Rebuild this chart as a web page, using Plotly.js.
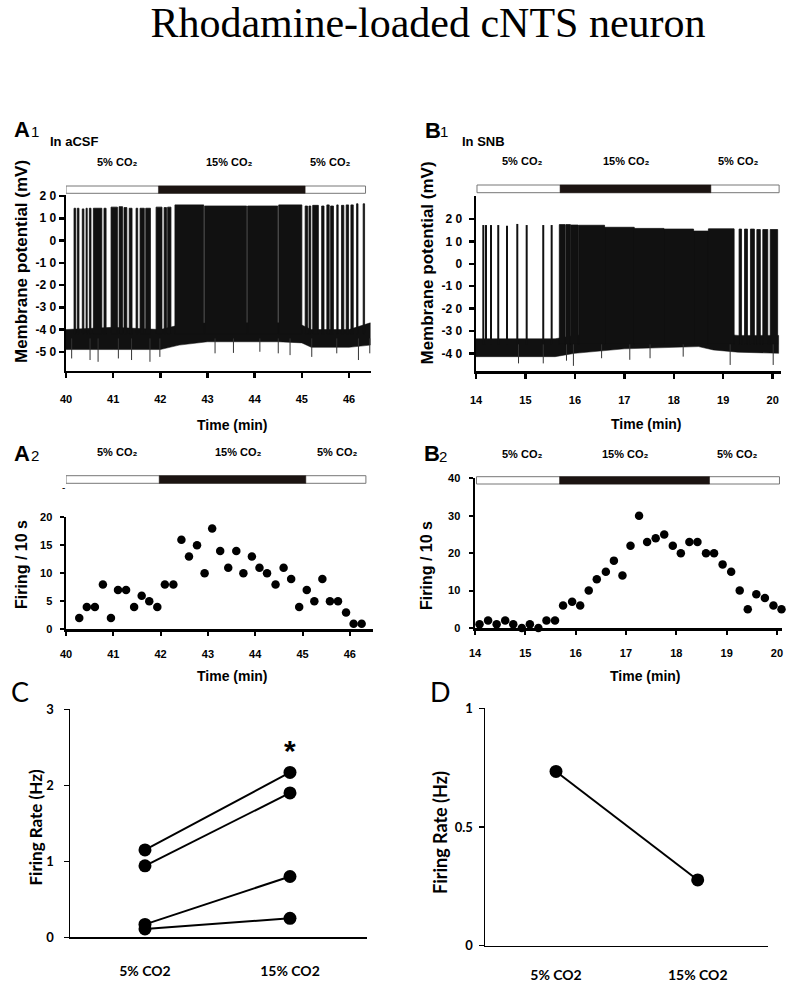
<!DOCTYPE html>
<html><head><meta charset="utf-8">
<script src="https://cdn.plot.ly/plotly-3.0.1.min.js"></script>
<style>html,body{margin:0;padding:0;background:#fff}#chart{width:800px;height:989px}</style>
</head><body><div id="chart"></div>
<script>
// ---------- A1 : membrane potential in aCSF ----------
const a1XTicks = [40, 41, 42, 43, 44, 45, 46];
const a1YTickVals = [20, 10, 0, -10, -20, -30, -40, -50];
const a1YTickText = ['2 0', '1 0', '0', '-1 0', '-2 0', '-3 0', '-4 0', '-5 0'];
const a1Bar = [40.0, 46.35];
const a1Co2 = [41.96, 45.07];
const a1BandT = [40, 41.0, 42.0, 42.4, 43.0, 44.5, 45.0, 45.2, 46.0, 46.45];
const a1BandTop = [-40, -39, -40, -38, -37, -37, -38, -40, -40, -37];
const a1BandBot = [-49, -49, -49, -47, -45.5, -45.5, -46, -48, -48, -47];
const a1BurstStart = [40.17,40.24,40.345,40.425,40.495,40.58,40.805,40.955,41.125,41.23,41.34,41.485,41.57,41.69,41.91,42.08,42.155,42.31,42.94,43.85,44.51,45.07,45.15,45.23,45.42,45.53,45.61,45.74,45.84,45.94,46.04,46.16,46.30];
const a1BurstEnd = [40.205,40.275,40.38,40.45,40.53,40.76,40.85,41.09,41.20,41.29,41.40,41.52,41.66,41.79,42.035,42.13,42.225,42.92,43.83,44.49,45.0,45.12,45.19,45.35,45.47,45.58,45.67,45.77,45.89,45.99,46.09,46.19,46.33];
const a1BurstPeak = [14.5,14.5,14.2,14.5,14.5,14.5,14.5,15,15.2,14.8,14.5,14.5,14.5,14.5,15,14.8,15,16,15.5,15.5,16,15.5,15.5,15.8,15.5,16,15.5,16,15.8,16,16,16.5,16.5];
const a1SpikeBase = -42;
const a1DipT = [40.12,40.51,40.68,41.11,41.39,41.78,41.99,43.16,43.55,44.11,44.5,44.75,45.21,45.74,46.2,46.44];
const a1DipV = [-53,-53.7,-54.5,-53,-53.7,-54.5,-52.3,-50.7,-50.5,-50,-50.7,-51.5,-52.3,-50.7,-53.7,-50.7];

// ---------- B1 : membrane potential in SNB ----------
const b1XTicks = [14, 15, 16, 17, 18, 19, 20];
const b1YTickVals = [20, 10, 0, -10, -20, -30, -40];
const b1YTickText = ['2 0', '1 0', '0', '-1 0', '-2 0', '-3 0', '-4 0'];
const b1Bar = [14.02, 20.13];
const b1Co2 = [15.70, 18.75];
const b1BandT = [14, 15.6, 16.0, 17.0, 18.5, 18.8, 19.3, 20.12];
const b1BandTop = [-33.5, -33.5, -32, -30, -30, -31, -32, -32];
const b1BandBot = [-41.5, -41.5, -40, -38, -37, -38.5, -39.5, -40];
const b1SpikeT = [14.148, 14.202, 14.303, 14.45, 14.627, 14.835, 15.025, 15.36, 15.53];
const b1SpikePeak = [17.3, 17.3, 17.3, 17.3, 17, 17.8, 17.3, 17.3, 17.3];
const b1BurstStart = [15.685,15.82,15.92,16.075,16.6,17.2,17.8,18.4,18.7,19.32,19.43,19.55,19.68,19.80,19.95];
const b1BurstEnd = [15.805,15.91,16.065,16.6,17.2,17.8,18.4,18.7,19.22,19.37,19.49,19.63,19.75,19.90,20.10];
const b1BurstPeak = [17.5,17.5,17.3,17.2,16.3,15.8,15.5,14.6,15.6,15.5,15.5,15.5,15.3,15.3,15.3];
const b1SpikeBase = -36;
const b1DipT = [14.86, 15.36, 15.83, 15.97, 16.54, 17.11, 17.52, 18.19, 19.14, 20.01];
const b1DipV = [-44.5, -44.5, -43.3, -45.6, -42.2, -42.9, -42.2, -41.5, -45.2, -45.2];

// ---------- A2 : firing per 10 s (aCSF) ----------
const a2XTicks = [40, 41, 42, 43, 44, 45, 46];
const a2YTicks = [0, 5, 10, 15, 20];
const a2Bar = [40.0, 46.34];
const a2Co2 = [41.97, 45.07];
const a2T = [40.28,40.44,40.61,40.78,40.95,41.10,41.27,41.44,41.60,41.76,41.93,42.09,42.27,42.44,42.60,42.77,42.93,43.09,43.26,43.43,43.60,43.75,43.93,44.09,44.25,44.43,44.60,44.76,44.93,45.09,45.25,45.42,45.58,45.75,45.92,46.08,46.25];
const a2V = [2,4,4,8,2,7,7,4,6,5,4,8,8,16,13,15,10,18,14,11,14,10,13,11,10,8,11,9,4,7,5,9,5,5,3,1,1];

// ---------- B2 : firing per 10 s (SNB) ----------
const b2XTicks = [14, 15, 16, 17, 18, 19, 20];
const b2YTicks = [0, 10, 20, 30, 40];
const b2Bar = [14.03, 20.05];
const b2Co2 = [15.68, 18.66];
const b2T = [14.09,14.26,14.43,14.60,14.76,14.93,15.09,15.26,15.42,15.59,15.75,15.93,16.09,16.26,16.42,16.60,16.76,16.93,17.09,17.26,17.42,17.59,17.76,17.93,18.09,18.26,18.42,18.59,18.75,18.92,19.09,19.26,19.42,19.59,19.76,19.93,20.09];
const b2V = [1,2,1,2,1,0,1,0,2,2,6,7,6,10,13,15,18,14,22,30,23,24,25,22,20,23,23,20,20,17,15,10,5,9,8,6,5];

// ---------- C and D : firing rate ----------
const condCats = ['5% CO2', '15% CO2'];
const cCell1 = [1.15, 2.17];
const cCell2 = [0.94, 1.90];
const cCell3 = [0.17, 0.80];
const cCell4 = [0.11, 0.25];
const cYTicks = [0, 1, 2, 3];
const dCell1 = [0.734, 0.277];
const dYTicks = [0, 0.5, 1];
const dYTickText = ['0', '0.5', '1'];

// ================= drawing =================
const W = 800, H = 989;
const FA = 'Liberation Sans, Arial, sans-serif';
const FC = 'Lato, Open Sans, sans-serif';
const px = v => v / W;
const py = v => 1 - v / H;

function bandTrace(t, top, bot, xa, ya) {
  return {x: t.concat(t.slice().reverse()), y: top.concat(bot.slice().reverse()),
    xaxis: xa, yaxis: ya, type: 'scatter', mode: 'lines', fill: 'toself',
    fillcolor: '#111', line: {color: '#111', width: 0.5}, hoverinfo: 'skip'};
}
function burstTrace(s, e, pk, base, xa, ya) {
  const x = [], y = [];
  for (let i = 0; i < s.length; i++) {
    x.push(s[i], s[i], e[i], e[i], s[i], null);
    y.push(base, pk[i], pk[i], base, base, null);
  }
  return {x, y, xaxis: xa, yaxis: ya, type: 'scatter', mode: 'lines', fill: 'toself',
    fillcolor: '#111', line: {color: '#111', width: 0.8}, hoverinfo: 'skip'};
}
function vlineTrace(t, v0, v, xa, ya, w, color) {
  const x = [], y = [];
  for (let i = 0; i < t.length; i++) {
    x.push(t[i], t[i], null);
    y.push(Array.isArray(v0) ? v0[i] : v0, v[i], null);
  }
  return {x, y, xaxis: xa, yaxis: ya, type: 'scatter', mode: 'lines',
    line: {color: color || '#111', width: w}, hoverinfo: 'skip'};
}
function dotTrace(t, v, xa, ya, size) {
  return {x: t, y: v, xaxis: xa, yaxis: ya, type: 'scatter', mode: 'markers',
    marker: {color: '#000', size: size}, cliponaxis: false};
}
function pairTrace(v, xa, ya) {
  return {x: condCats, y: v, xaxis: xa, yaxis: ya, type: 'scatter', mode: 'lines+markers',
    line: {color: '#000', width: 2}, marker: {color: '#000', size: 13}, cliponaxis: false};
}

const traces = [
  bandTrace(a1BandT, a1BandTop, a1BandBot, 'x', 'y'),
  burstTrace(a1BurstStart, a1BurstEnd, a1BurstPeak, a1SpikeBase, 'x', 'y'),
  vlineTrace(a1DipT, -44, a1DipV, 'x', 'y', 1, '#333'),
  bandTrace(b1BandT, b1BandTop, b1BandBot, 'x2', 'y2'),
  burstTrace(b1BurstStart, b1BurstEnd, b1BurstPeak, b1SpikeBase, 'x2', 'y2'),
  vlineTrace(b1SpikeT, b1SpikeBase, b1SpikePeak, 'x2', 'y2', 2),
  vlineTrace(b1DipT, -36, b1DipV, 'x2', 'y2', 1, '#333'),
  dotTrace(a2T, a2V, 'x3', 'y3', 8.5),
  dotTrace(b2T, b2V, 'x4', 'y4', 8.5),
  pairTrace(cCell1, 'x5', 'y5'),
  pairTrace(cCell2, 'x5', 'y5'),
  pairTrace(cCell3, 'x5', 'y5'),
  pairTrace(cCell4, 'x5', 'y5'),
  pairTrace(dCell1, 'x6', 'y6')
];

function axis(o) {
  return Object.assign({showline: true, linecolor: '#000', showgrid: false, zeroline: false,
    fixedrange: true, ticks: 'outside', tickcolor: '#000'}, o);
}
const tfA = {family: FA, size: 12, color: '#000', weight: 'bold'};
const tfA2 = {family: FA, size: 11, color: '#000', weight: 'bold'};
const tfC = {family: FC, size: 13, color: '#000', weight: 'bold'};

const layout = {
  width: W, height: H, margin: {l: 0, r: 0, t: 0, b: 0, pad: 0},
  paper_bgcolor: '#fff', plot_bgcolor: '#fff', showlegend: false,
  title: {text: 'Rhodamine-loaded cNTS neuron', font: {family: 'Liberation Serif, Times New Roman, serif', size: 42, color: '#000'},
    x: px(428), xanchor: 'center', xref: 'paper', y: py(22), yanchor: 'middle', yref: 'container'},
  // A1
  xaxis: axis({domain: [px(66), px(371)], range: [40, 46.466], anchor: 'y', linewidth: 2.5, ticklen: 5, tickwidth: 2.5,
    tickvals: a1XTicks, tickfont: tfA2, ticklabelstandoff: 12}),
  yaxis: axis({domain: [py(370.7), py(195)], range: [-58.5, 20.45], anchor: 'x', linewidth: 2.5, ticklen: 5, tickwidth: 2.5,
    tickvals: a1YTickVals, ticktext: a1YTickText, tickfont: tfA}),
  // B1
  xaxis2: axis({domain: [px(476), px(781)], range: [14, 20.168], anchor: 'y2', linewidth: 2.5, ticklen: 5, tickwidth: 2.5,
    tickvals: b1XTicks, tickfont: tfA2, ticklabelstandoff: 12}),
  yaxis2: axis({domain: [py(371), py(196)], range: [-47.9, 30.28], anchor: 'x2', linewidth: 2.5, ticklen: 5, tickwidth: 2.5,
    tickvals: b1YTickVals, ticktext: b1YTickText, tickfont: tfA, ticklabelstandoff: 4}),
  // A2
  xaxis3: axis({domain: [px(66), px(373)], range: [40, 46.49], anchor: 'y3', linewidth: 2.5, ticklen: 4, tickwidth: 2,
    tickvals: a2XTicks, tickfont: tfA2, ticklabelstandoff: 9}),
  yaxis3: axis({domain: [py(629.3), py(517.3)], range: [0, 20], anchor: 'x3', linewidth: 2.5, ticklen: 4, tickwidth: 2,
    tickvals: a2YTicks, tickfont: tfA2, ticklabelstandoff: 5}),
  // B2
  xaxis4: axis({domain: [px(475), px(782)], range: [14, 20.1], anchor: 'y4', linewidth: 2.5, ticklen: 4, tickwidth: 2,
    tickvals: b2XTicks, tickfont: tfA2, ticklabelstandoff: 9}),
  yaxis4: axis({domain: [py(628), py(478.3)], range: [0, 40], anchor: 'x4', linewidth: 2.5, ticklen: 4, tickwidth: 2,
    tickvals: b2YTicks, tickfont: tfA2, ticklabelstandoff: 6}),
  // C
  xaxis5: axis({domain: [px(70), px(367)], range: [-0.517, 1.531], type: 'category', anchor: 'y5', linewidth: 1.5,
    ticks: '', tickfont: {family: FC, size: 14, color: '#000', weight: 'bold'}, ticklabelstandoff: 20}),
  yaxis5: axis({domain: [py(937.3), py(709.3)], range: [0, 3], anchor: 'x5', linewidth: 1.5, ticklen: 5, tickwidth: 1.5,
    tickvals: cYTicks, tickfont: tfC, ticklabelstandoff: 7}),
  // D
  xaxis6: axis({domain: [px(485), px(768)], range: [-0.501, 1.496], type: 'category', anchor: 'y6', linewidth: 1.5,
    ticks: '', tickfont: {family: FC, size: 14, color: '#000', weight: 'bold'}, ticklabelstandoff: 16}),
  yaxis6: axis({domain: [py(945.7), py(708.3)], range: [0, 1], anchor: 'x6', linewidth: 1.5, ticklen: 5, tickwidth: 1.5,
    tickvals: dYTicks, ticktext: dYTickText, tickfont: tfC, ticklabelstandoff: 3}),
  shapes: [],
  annotations: []
};

function co2Bar(bar, co2, xref, yTop, yBot) {
  layout.shapes.push({type: 'rect', xref: xref, yref: 'paper', x0: bar[0], x1: bar[1], y0: py(yBot), y1: py(yTop),
    fillcolor: '#fff', line: {color: '#777', width: 1}, layer: 'above'});
  layout.shapes.push({type: 'rect', xref: xref, yref: 'paper', x0: co2[0], x1: co2[1], y0: py(yBot), y1: py(yTop),
    fillcolor: '#1c1412', line: {color: '#1c1412', width: 0.5}, layer: 'above'});
}
co2Bar(a1Bar, a1Co2, 'x', 186, 193.3);
co2Bar(b1Bar, b1Co2, 'x2', 185, 192.7);
co2Bar(a2Bar, a2Co2, 'x3', 475.7, 483.3);
co2Bar(b2Bar, b2Co2, 'x4', 476.7, 484);

function ann(text, x, y, font, o) {
  layout.annotations.push(Object.assign({text: text, x: px(x), y: py(y), xref: 'paper', yref: 'paper',
    showarrow: false, xanchor: 'center', yanchor: 'middle', font: Object.assign({color: '#000'}, font)}, o || {}));
}
const fLab = {family: FA, size: 22, weight: 'bold'};
const fSub = {family: FA, size: 15};
const fCo2 = {family: FA, size: 11, weight: 'bold'};
const fYT = {family: FA, size: 17, weight: 'bold'};
const fXT = {family: FA, size: 14, weight: 'bold'};
const co2Lbl = '5% CO\u2082', co2Hi = '15% CO\u2082';

// panel letters
ann('A', 22, 129, fLab); ann('1', 35, 131, fSub);
ann('In aCSF', 48, 141.5, {family: FA, size: 13, weight: 'bold'}, {xanchor: 'left'});
ann('B', 432.5, 130, fLab); ann('1', 444, 131, fSub);
ann('In SNB', 460, 141, {family: FA, size: 13, weight: 'bold'}, {xanchor: 'left'});
ann('A', 21.7, 453, fLab); ann('2', 34.5, 455, fSub);
ann('B', 431.5, 454, fLab); ann('2', 443.5, 456, fSub);
ann('C', 20, 691, {family: FC, size: 27});
ann('D', 440, 691.5, {family: FC, size: 27});
ann('-', 63, 487, {family: FA, size: 10});
// CO2 labels
ann(co2Lbl, 116.7, 162, fCo2); ann(co2Hi, 230, 162, fCo2); ann(co2Lbl, 330, 162, fCo2);
ann(co2Lbl, 521.7, 160.7, fCo2); ann(co2Hi, 626.7, 160.7, fCo2); ann(co2Lbl, 738.3, 160.7, fCo2);
ann(co2Lbl, 116.7, 451.7, fCo2); ann(co2Hi, 238.3, 451.7, fCo2); ann(co2Lbl, 336.7, 451.7, fCo2);
ann(co2Lbl, 521.7, 454.3, fCo2); ann(co2Hi, 625, 454.3, fCo2); ann(co2Lbl, 736.7, 454.3, fCo2);
// axis titles
ann('Membrane potential (mV)', 21, 262, fYT, {textangle: -90});
ann('Membrane potential (mV)', 427, 262.5, fYT, {textangle: -90});
ann('Time (min)', 232.5, 425, fXT);
ann('Time (min)', 646, 424, fXT);
ann('Firing / 10 s', 21, 565, {family: FA, size: 16, weight: 'bold'}, {textangle: -90});
ann('Firing / 10 s', 426, 566, {family: FA, size: 16, weight: 'bold'}, {textangle: -90});
ann('Time (min)', 232.5, 676, fXT);
ann('Time (min)', 645, 676, fXT);
ann('Firing Rate (Hz)', 35, 827.5, {family: FC, size: 17, weight: 'bold'}, {textangle: -90});
ann('Firing Rate (Hz)', 440, 833, {family: FC, size: 18, weight: 'bold'}, {textangle: -90});
ann('*', 290, 750, {family: FA, size: 30, weight: 'bold'});

Plotly.newPlot('chart', traces, layout, {staticPlot: true, displayModeBar: false});
</script>
</body></html>
